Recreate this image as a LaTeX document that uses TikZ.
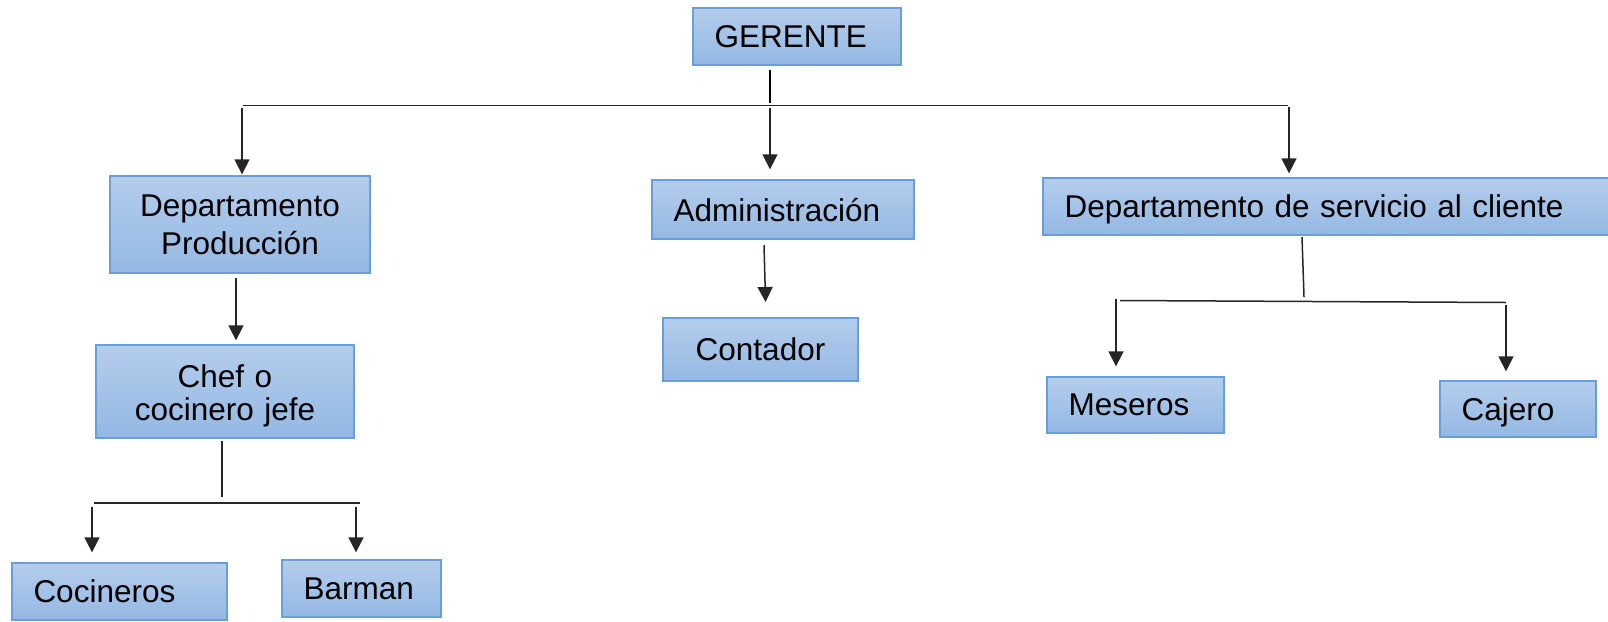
\documentclass[tikz,border=0pt]{standalone}
\usepackage{fontspec}
\setmainfont{Liberation Sans}
\usetikzlibrary{arrows.meta}
\definecolor{boxtop}{RGB}{180,205,236}
\definecolor{boxbot}{RGB}{148,184,227}
\definecolor{boxline}{RGB}{104,158,217}
\tikzset{
  box/.style={draw=boxline, line width=1.3pt, top color=boxtop, bottom color=boxbot,
    font=\fontsize{31.5}{38}\selectfont, inner ysep=0pt, inner xsep=21.5pt,
    anchor=center},
  lbox/.style={box, align=left, text depth=0pt},
  cbox/.style={box, align=center},
  conn/.style={line width=1.5pt, black!85},
  stem/.style={line width=2.6pt, black},
  arr/.style={conn, -{Triangle[length=15pt,width=15pt]}}
}
\begin{document}
\begin{tikzpicture}[x=1pt,y=-1pt]
\path[use as bounding box] (0,0) rectangle (1608,621);
\clip (0,0) rectangle (1608,621);
% boxes
\node[lbox, text width=165pt, minimum height=57pt] (ger) at (797,36.5) {GERENTE};
\node[cbox, text width=217pt, minimum height=97pt] (prod) at (240,224.5) {Departamento\\Producción};
\node[lbox, text width=219pt, minimum height=59pt] (adm) at (783,209.5) {Administración};
\node[lbox, text width=537pt, minimum height=57pt] (srv) at (1333,206.5) {Departamento de servicio al cliente};
\node[cbox, text width=215pt, minimum height=93pt, text depth=30pt, font=\fontsize{31.5}{33}\selectfont] (chef) at (225,391.5) {Chef o\\cocinero jefe};
\node[cbox, text width=152pt, minimum height=63pt, text depth=0pt] (cont) at (760.5,349.5) {Contador};
\node[lbox, text width=134pt, minimum height=56pt] (mes) at (1135.5,405) {Meseros};
\node[lbox, text width=113pt, minimum height=56pt] (caj) at (1518,409) {Cajero};
\node[lbox, text width=172pt, minimum height=57pt] (coc) at (119.5,591.5) {Cocineros};
\node[lbox, text width=116pt, minimum height=57pt] (bar) at (361.5,588.5) {Barman};
% top level
\coordinate (g1) at (770,103);
\draw[stem] (g1 |- ger.south) ++(0,4) -- (g1);
\coordinate (b1) at (243,105.5);
\coordinate (b2) at (1288,105.5);
\draw[conn] (b1) -- (b2);
\coordinate (a1) at (242,108);
\coordinate (a2) at (770,107.5);
\coordinate (a3) at (1289,107);
\draw[arr, shorten >=1pt] (a1) -- (a1 |- prod.north);
\draw[arr, shorten >=10pt] (a2) -- (a2 |- adm.north);
\draw[arr, shorten >=4pt] (a3) -- (a3 |- srv.north);
% production
\coordinate (p1) at (236,278);
\draw[arr, shorten >=4pt] (p1) -- (p1 |- chef.north);
\coordinate (c0) at (222,497);
\draw[conn] (c0 |- chef.south) ++(0,2) -- (c0);
\coordinate (c1) at (94,503);
\coordinate (c2) at (360,503);
\draw[conn] (c1) -- (c2);
\coordinate (c3) at (92,507);
\coordinate (c4) at (356,507);
\draw[arr, shorten >=10pt] (c3) -- (c3 |- coc.north);
\draw[arr, shorten >=7pt] (c4) -- (c4 |- bar.north);
% administration
\coordinate (d1) at (764,245);
\coordinate (d2) at (766,318);
\draw[arr, shorten >=16pt] (d1) -- (d2);
% service
\coordinate (s0) at (1304,297);
\draw[conn] (1302,237) -- (s0);
\coordinate (s1) at (1120,300.5);
\coordinate (s2) at (1506,302.5);
\draw[conn] (s1) -- (s2);
\coordinate (s3) at (1116,299);
\coordinate (s4) at (1506,305);
\draw[arr, shorten >=10pt] (s3) -- (s3 |- mes.north);
\draw[arr, shorten >=9pt] (s4) -- (s4 |- caj.north);
\end{tikzpicture}
\end{document}
